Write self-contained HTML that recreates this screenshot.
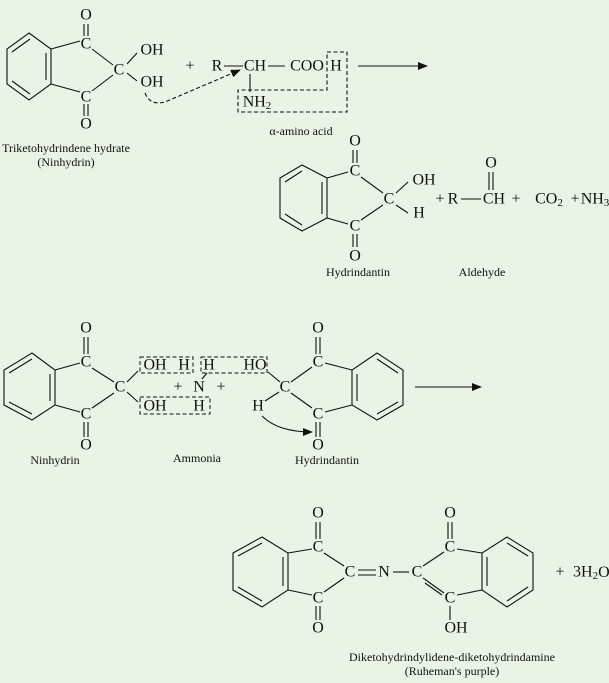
<!DOCTYPE html>
<html><head><meta charset="utf-8"><style>
html,body{margin:0;padding:0;background:#eaf4e6;}
svg{display:block;}
text{font-family:"Liberation Serif",serif;fill:#111;}
.a{font-size:16px;text-anchor:middle;dominant-baseline:central;}
.l{font-size:12px;text-anchor:middle;}
line,path,polygon{stroke:#111;stroke-width:1.1;fill:none;}
.d{stroke-dasharray:4 2.5;}
</style></head><body>
<svg width="609" height="683" viewBox="0 0 609 683">
<defs><marker id="ah" markerWidth="10" markerHeight="8" refX="9" refY="4" orient="auto" markerUnits="userSpaceOnUse"><path d="M0,0 L10,4 L0,8 Z" style="fill:#111;stroke:none"/></marker></defs>

<polygon points="29,33 51,49 51,84 29,100 7,84 7,49"/>
<line x1="12" y1="52" x2="30" y2="39"/><line x1="46" y1="53" x2="46" y2="80"/><line x1="12" y1="81" x2="30" y2="94"/>
<text class="a" x="86" y="15">O</text><line x1="84" y1="24" x2="84" y2="36"/><line x1="88" y1="24" x2="88" y2="36"/>
<text class="a" x="86" y="44">C</text>
<line x1="51" y1="49" x2="80" y2="41"/><line x1="92" y1="49" x2="113" y2="65"/>
<text class="a" x="119" y="70">C</text>
<line x1="51" y1="84" x2="80" y2="92"/><line x1="92" y1="91" x2="113" y2="75"/>
<text class="a" x="86" y="97">C</text><line x1="84" y1="104" x2="84" y2="116"/><line x1="88" y1="104" x2="88" y2="116"/>
<text class="a" x="86" y="124">O</text>
<line x1="127" y1="64" x2="137" y2="53"/><text class="a" x="152" y="50">OH</text>
<line x1="127" y1="73" x2="137" y2="81"/><text class="a" x="152" y="82">OH</text>
<path class="d" d="M145,93 Q150,106 165,102 L240,70" marker-end="url(#ah)"/>
<text class="a" x="190" y="66">+</text>
<text class="a" x="217" y="66">R</text><line x1="224" y1="66" x2="243" y2="66"/>
<text class="a" x="255" y="66">CH</text><line x1="268" y1="66" x2="285" y2="66"/>
<text class="a" x="307" y="66">COO</text><text class="a" x="336" y="66">H</text>
<line x1="250" y1="74" x2="250" y2="92"/>
<text class="a" x="257" y="102">NH<tspan font-size="11" dy="4">2</tspan></text>
<polygon class="d" points="327,52 347,52 347,112 238,112 238,90 327,90"/>
<line x1="358" y1="66" x2="427" y2="66" marker-end="url(#ah)"/>
<text class="l" x="301" y="135">α-amino acid</text>
<text class="l" x="66" y="152">Triketohydrindene hydrate</text>
<text class="l" x="66" y="166">(Ninhydrin)</text>

<polygon points="302,165 327,178 327,218 302,231 280,218 280,178"/>
<line x1="285" y1="182" x2="302" y2="171"/><line x1="322" y1="182" x2="322" y2="214"/><line x1="285" y1="214" x2="302" y2="225"/>
<text class="a" x="355" y="141">O</text><line x1="353" y1="150" x2="353" y2="163"/><line x1="357" y1="150" x2="357" y2="163"/>
<text class="a" x="355" y="171">C</text>
<line x1="327" y1="178" x2="348" y2="172"/><line x1="361" y1="177" x2="383" y2="193"/>
<text class="a" x="389" y="199">C</text>
<line x1="327" y1="218" x2="348" y2="224"/><line x1="361" y1="220" x2="383" y2="205"/>
<text class="a" x="355" y="226">C</text><line x1="353" y1="234" x2="353" y2="247"/><line x1="357" y1="234" x2="357" y2="247"/>
<text class="a" x="355" y="256">O</text>
<line x1="396" y1="193" x2="408" y2="182"/><text class="a" x="424" y="180">OH</text>
<line x1="396" y1="205" x2="408" y2="213"/><text class="a" x="419" y="213">H</text>
<text class="a" x="440" y="199">+</text><text class="a" x="453" y="199">R</text>
<line x1="461" y1="199" x2="481" y2="199"/>
<text class="a" x="494" y="199">CH</text>
<text class="a" x="491" y="163">O</text><line x1="489" y1="172" x2="489" y2="190"/><line x1="493" y1="172" x2="493" y2="190"/>
<text class="a" x="516" y="199">+</text>
<text class="a" x="549" y="199">CO<tspan font-size="11" dy="4">2</tspan></text>
<text class="a" x="575" y="199">+</text>
<text class="a" x="595" y="199">NH<tspan font-size="11" dy="4">3</tspan></text>
<text class="l" x="358" y="276">Hydrindantin</text>
<text class="l" x="482" y="276">Aldehyde</text>

<polygon points="32,353 55,370 55,405 32,420 4,405 4,370"/>
<line x1="9" y1="373" x2="32" y2="359"/><line x1="50" y1="374" x2="50" y2="401"/><line x1="9" y1="402" x2="32" y2="414"/>
<text class="a" x="86" y="328">O</text><line x1="84" y1="337" x2="84" y2="354"/><line x1="88" y1="337" x2="88" y2="354"/>
<text class="a" x="86" y="362">C</text>
<line x1="55" y1="370" x2="80" y2="363"/><line x1="92" y1="368" x2="114" y2="382"/>
<text class="a" x="120" y="387">C</text>
<line x1="55" y1="405" x2="80" y2="412"/><line x1="92" y1="408" x2="114" y2="393"/>
<text class="a" x="86" y="414">C</text><line x1="84" y1="422" x2="84" y2="437"/><line x1="88" y1="422" x2="88" y2="437"/>
<text class="a" x="86" y="445">O</text>
<line x1="127" y1="382" x2="138" y2="371"/><line x1="127" y1="392" x2="138" y2="402"/>
<text class="a" x="155" y="365">OH</text><text class="a" x="184" y="365">H</text>
<text class="a" x="209" y="365">H</text><text class="a" x="255" y="365">HO</text>
<text class="a" x="178" y="387">+</text><text class="a" x="199" y="387">N</text><text class="a" x="221" y="387">+</text>
<line x1="202" y1="379" x2="207" y2="373"/>
<text class="a" x="155" y="406">OH</text><text class="a" x="199" y="406">H</text>
<rect class="d" x="140" y="357" width="53" height="16" style="fill:none;stroke:#111"/>
<rect class="d" x="201" y="357" width="66" height="16" style="fill:none;stroke:#111"/>
<rect class="d" x="140" y="397" width="70" height="17" style="fill:none;stroke:#111"/>
<line x1="268" y1="372" x2="280" y2="382"/>
<text class="a" x="285" y="387">C</text>
<line x1="291" y1="382" x2="312" y2="367"/><line x1="291" y1="393" x2="312" y2="408"/>
<text class="a" x="318" y="362">C</text><text class="a" x="318" y="328">O</text>
<line x1="316" y1="337" x2="316" y2="354"/><line x1="320" y1="337" x2="320" y2="354"/>
<text class="a" x="318" y="414">C</text><text class="a" x="318" y="445">O</text>
<line x1="316" y1="422" x2="316" y2="437"/><line x1="320" y1="422" x2="320" y2="437"/>
<line x1="325" y1="363" x2="352" y2="370"/><line x1="325" y1="412" x2="352" y2="405"/>
<polygon points="377,353 403,370 403,405 377,420 352,405 352,370"/>
<line x1="357" y1="374" x2="357" y2="401"/><line x1="377" y1="359" x2="398" y2="373"/><line x1="377" y1="414" x2="398" y2="402"/>
<text class="a" x="258" y="406">H</text><line x1="265" y1="401" x2="279" y2="392"/>
<path d="M262,416 Q278,432 312,432" marker-end="url(#ah)"/>
<line x1="415" y1="387" x2="481" y2="387" marker-end="url(#ah)"/>
<text class="l" x="55" y="464">Ninhydrin</text>
<text class="l" x="197" y="462">Ammonia</text>
<text class="l" x="327" y="464">Hydrindantin</text>

<polygon points="262,537 288,553 288,590 262,607 233,590 233,553"/>
<line x1="238" y1="556" x2="262" y2="543"/><line x1="283" y1="557" x2="283" y2="586"/><line x1="238" y1="587" x2="262" y2="601"/>
<text class="a" x="318" y="513">O</text><line x1="316" y1="522" x2="316" y2="539"/><line x1="320" y1="522" x2="320" y2="539"/>
<text class="a" x="318" y="547">C</text>
<line x1="288" y1="553" x2="312" y2="549"/><line x1="324" y1="553" x2="344" y2="566"/>
<text class="a" x="350" y="572">C</text>
<line x1="288" y1="590" x2="312" y2="595"/><line x1="324" y1="592" x2="344" y2="578"/>
<text class="a" x="318" y="598">C</text><line x1="316" y1="606" x2="316" y2="620"/><line x1="320" y1="606" x2="320" y2="620"/>
<text class="a" x="318" y="628">O</text>
<line x1="358" y1="570" x2="376" y2="570"/><line x1="358" y1="575" x2="376" y2="575"/>
<text class="a" x="384" y="572">N</text><line x1="393" y1="572" x2="409" y2="572"/>
<text class="a" x="417" y="572">C</text>
<line x1="423" y1="566" x2="444" y2="552"/>
<line x1="423" y1="578" x2="444" y2="593"/><line x1="425" y1="583" x2="442" y2="595"/>
<text class="a" x="450" y="547">C</text><text class="a" x="450" y="513">O</text>
<line x1="448" y1="522" x2="448" y2="539"/><line x1="452" y1="522" x2="452" y2="539"/>
<text class="a" x="450" y="598">C</text><line x1="450" y1="606" x2="450" y2="620"/>
<text class="a" x="456" y="628">OH</text>
<line x1="457" y1="549" x2="482" y2="553"/><line x1="457" y1="595" x2="482" y2="590"/>
<polygon points="507,537 533,553 533,590 507,607 482,590 482,553"/>
<line x1="487" y1="557" x2="487" y2="586"/><line x1="507" y1="543" x2="528" y2="556"/><line x1="507" y1="601" x2="528" y2="587"/>
<text class="a" x="560" y="572">+</text>
<text x="573" y="572" style="font-size:16px;dominant-baseline:central">3H<tspan font-size="11" dy="4">2</tspan><tspan dy="-4">O</tspan></text>
<text class="l" x="452" y="661">Diketohydrindylidene-diketohydrindamine</text>
<text class="l" x="452" y="675">(Ruheman's purple)</text>
</svg>
</body></html>
